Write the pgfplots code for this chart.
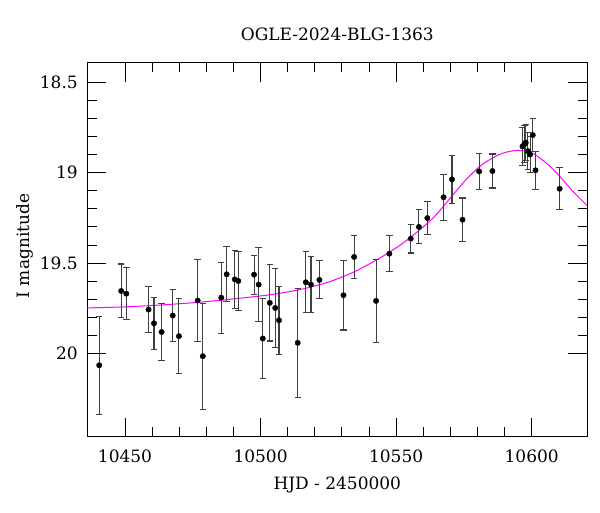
\documentclass[border=0pt]{standalone}
\usepackage{fontspec}
\setmainfont{DejaVu Serif}
\usepackage{pgfplots}
\pgfplotsset{compat=1.18}
\usepackage{pgfplotstable}
\pgfplotstableread{
t mag err
10440.5 20.065 0.272
10448.6 19.654 0.149
10450.5 19.669 0.143
10458.7 19.757 0.127
10460.7 19.833 0.143
10463.5 19.881 0.157
10467.6 19.790 0.146
10469.9 19.904 0.207
10476.8 19.707 0.227
10478.7 20.015 0.293
10485.5 19.691 0.196
10487.5 19.562 0.152
10490.5 19.590 0.160
10491.8 19.599 0.161
10497.6 19.564 0.108
10499.3 19.619 0.205
10500.8 19.917 0.221
10503.4 19.720 0.211
10505.4 19.748 0.217
10506.8 19.816 0.189
10513.7 19.941 0.300
10516.7 19.606 0.168
10518.6 19.619 0.155
10521.7 19.593 0.105
10530.6 19.678 0.192
10534.5 19.466 0.120
10542.6 19.709 0.228
10547.5 19.448 0.099
10555.4 19.365 0.079
10558.4 19.300 0.094
10561.5 19.251 0.093
10567.5 19.136 0.127
10570.6 19.037 0.132
10574.5 19.260 0.120
10580.6 18.993 0.101
10585.5 18.991 0.094
10596.6 18.855 0.107
10597.3 18.842 0.101
10597.8 18.834 0.100
10598.6 18.881 0.104
10599.4 18.900 0.100
10600.4 18.792 0.091
10601.4 18.987 0.104
10610.3 19.089 0.116
}\datatable
\pgfplotstableread{
t mag
10436.0 19.748
10450.0 19.742
10465.0 19.730
10480.0 19.713
10495.0 19.690
10505.0 19.672
10515.0 19.645
10525.0 19.605
10535.0 19.545
10545.0 19.463
10552.0 19.395
10558.0 19.325
10564.0 19.245
10570.0 19.140
10576.0 19.035
10582.0 18.952
10588.0 18.900
10592.0 18.882
10595.0 18.877
10598.0 18.882
10601.0 18.898
10606.0 18.955
10610.0 19.015
10615.0 19.100
10620.5 19.183
}\modeltable
\begin{document}
\begin{tikzpicture}
\useasboundingbox (0,0) rectangle (600pt,512pt);
\begin{axis}[
  at={(87.3pt,75.3pt)}, anchor=south west,
  scale only axis, width=500pt, height=374pt,
  xmin=10436.1, xmax=10620.5,
  ymin=18.392, ymax=20.46, y dir=reverse,
  xtick={10450,10500,10550,10600},
  xticklabels={\textrm{10450},\textrm{10500},\textrm{10550},\textrm{10600}},
  scaled x ticks=false,
  ytick={18.5,19,19.5,20},
  yticklabels={\textrm{18.5},\textrm{19},\textrm{19.5},\textrm{20}},
  minor x tick num=4, minor y tick num=4,
  tick align=inside,
  major tick length=19pt, minor tick length=9.5pt,
  xtick pos=both, ytick pos=both,
  every tick/.style={black, line width=0.9pt},
  axis line style={line width=1pt},
  tick label style={font=\fontsize{17}{20}\selectfont},
  title={OGLE-2024-BLG-1363},
  every axis title/.style={at={(axis description cs:0.5,1.077)}, anchor=center, font=\fontsize{17}{20}\selectfont},
  xlabel={HJD - 2450000},
  ylabel={I magnitude},
  every axis x label/.style={at={(axis description cs:0.5,-0.13)}, anchor=center, font=\fontsize{17}{20}\selectfont},
  every axis y label/.style={at={(axis description cs:-0.124,0.51)}, anchor=center, rotate=90, font=\fontsize{17}{20}\selectfont},
  xticklabel style={anchor=center, yshift=-19.5pt},
  yticklabel style={anchor=east, xshift=-6pt},
  clip=true,
]
\addplot[color={rgb,1:red,1;green,0;blue,1}, line width=1pt, smooth, no marks] table[x=t, y=mag] {\modeltable};
\addplot[black, only marks, mark=*, mark size=2.7pt,
  error bars/.cd, y dir=both, y explicit,
  error bar style={line width=1.1pt, black!75},
  error mark options={rotate=90, mark size=3.2pt, line width=1.1pt, black!75}]
  table[x=t, y=mag, y error=err] {\datatable};
\end{axis}
\end{tikzpicture}
\end{document}
